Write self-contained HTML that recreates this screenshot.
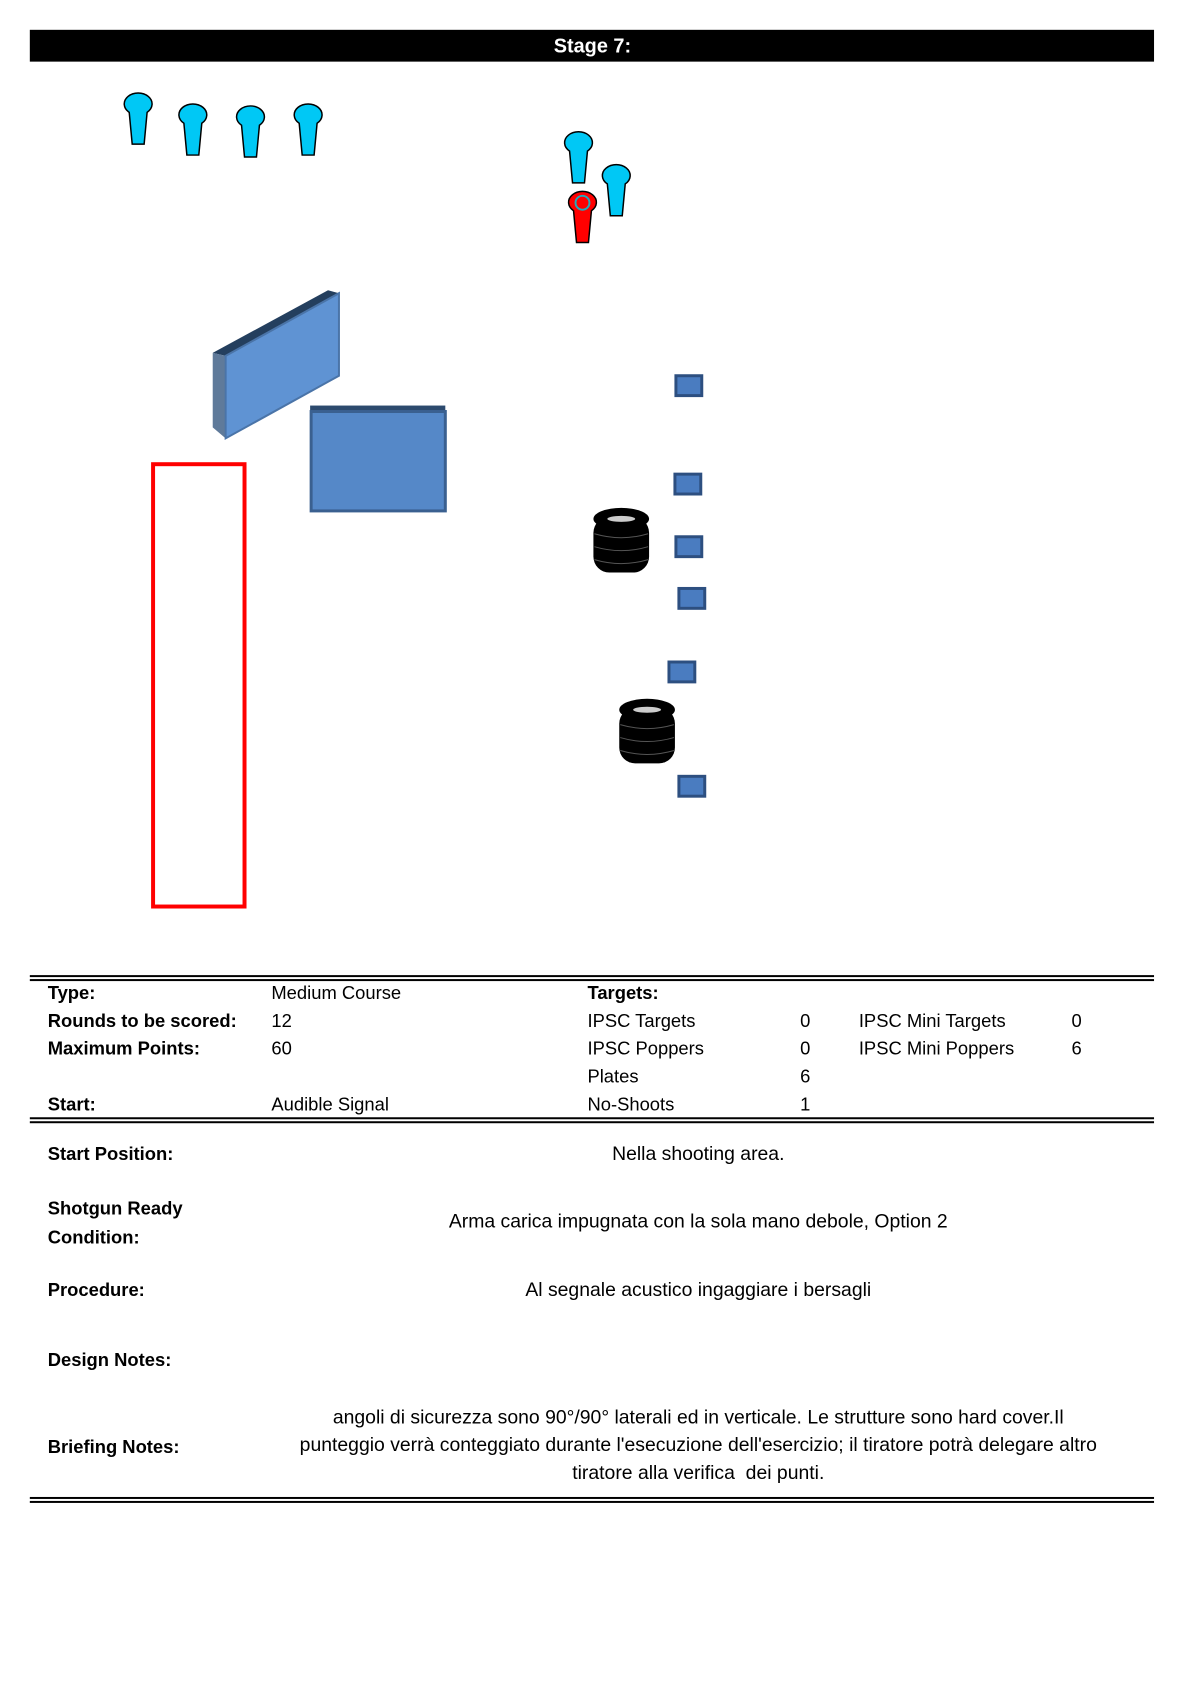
<!DOCTYPE html>
<html><head><meta charset="utf-8"><style>
body{margin:0;width:1191px;height:1684px;background:#fff;overflow:hidden;font-family:"Liberation Sans",sans-serif}
#w{position:absolute;left:0;top:0;width:1191px;height:1684px;transform:scale(0.994);transform-origin:0 0}
.t{position:absolute;font-size:18.5px;color:#000;white-space:nowrap;line-height:20px}
.b{font-weight:bold}
.c{position:absolute;left:250px;width:905px;text-align:center;font-size:19.5px;line-height:28px}
</style></head><body><div id="w">
<svg width="1191" height="1684" style="position:absolute;left:0;top:0">
<rect x="30" y="30" width="1131" height="32" fill="#000"/>
<text x="596" y="53" fill="#fff" font-size="20" font-weight="bold" text-anchor="middle" font-family="Liberation Sans">Stage 7:</text>
<defs>
<g id="pop"><path d="M-9,18 L-6,50 L6,50 L9,18 A14,11 0 1 0 -9,18 Z" stroke="#000" stroke-width="1.5"/></g>
</defs>
<g fill="#00c8f5">
<use href="#pop" x="139" y="95"/>
<use href="#pop" x="194" y="106"/>
<use href="#pop" x="252" y="108"/>
<use href="#pop" x="310" y="106"/>
<use href="#pop" x="582" y="134"/>
<use href="#pop" x="620" y="167"/>
</g>
<use href="#pop" x="586" y="194" fill="#f00"/>
<circle cx="586" cy="204" r="7" fill="none" stroke="#2ab" stroke-width="2"/>
<polygon points="214,355 330,292 341,295 227,358" fill="#243f5e"/>
<polygon points="214,355 227,358 227,441 214,430" fill="#5f7a9a"/>
<polygon points="227,358 341,295 341,378 227,441" fill="#5f93d3" stroke="#4a74a8" stroke-width="2"/>
<rect x="312" y="408" width="136" height="7" fill="#2c4a6e"/>
<rect x="313" y="414" width="135" height="100" fill="#5588c8" stroke="#3a6090" stroke-width="3"/>
<rect x="154" y="467" width="92" height="445" fill="none" stroke="#f00" stroke-width="4"/>
<g fill="#4a7cc0" stroke="#2d4f80" stroke-width="3">
<rect x="680" y="378" width="26" height="20"/>
<rect x="679" y="477" width="26" height="20"/>
<rect x="680" y="540" width="26" height="20"/>
<rect x="683" y="592" width="26" height="20"/>
<rect x="673" y="666" width="26" height="20"/>
<rect x="683" y="781" width="26" height="20"/>
</g>
<g id="bar1">
<rect x="597" y="520" width="56" height="56" rx="16" fill="#000"/>
<ellipse cx="625" cy="522" rx="28" ry="11" fill="#000"/>
<ellipse cx="625" cy="522" rx="14" ry="3" fill="#ccc"/>
<g stroke="#555" stroke-width="1" fill="none">
<path d="M598,537 Q625,545 652,537"/><path d="M598,550 Q625,558 652,550"/><path d="M598,563 Q625,571 652,563"/>
</g>
</g>
<g transform="translate(26,192)">
<rect x="597" y="520" width="56" height="56" rx="16" fill="#000"/>
<ellipse cx="625" cy="522" rx="28" ry="11" fill="#000"/>
<ellipse cx="625" cy="522" rx="14" ry="3" fill="#ccc"/>
<g stroke="#555" stroke-width="1" fill="none">
<path d="M598,537 Q625,545 652,537"/><path d="M598,550 Q625,558 652,550"/><path d="M598,563 Q625,571 652,563"/>
</g>
</g>
<g fill="#000">
<rect x="30" y="981" width="1131" height="2"/><rect x="30" y="985" width="1131" height="2"/>
<rect x="30" y="1124" width="1131" height="2"/><rect x="30" y="1128" width="1131" height="2"/>
<rect x="30" y="1506" width="1131" height="2"/><rect x="30" y="1510" width="1131" height="2"/>
</g>
</svg>
<div class="t b" style="left:48px;top:989px">Type:</div>
<div class="t" style="left:273px;top:989px">Medium Course</div>
<div class="t b" style="left:591px;top:989px">Targets:</div>
<div class="t b" style="left:48px;top:1017px">Rounds to be scored:</div>
<div class="t" style="left:273px;top:1017px">12</div>
<div class="t" style="left:591px;top:1017px">IPSC Targets</div>
<div class="t" style="left:805px;top:1017px">0</div>
<div class="t" style="left:864px;top:1017px">IPSC Mini Targets</div>
<div class="t" style="left:1078px;top:1017px">0</div>
<div class="t b" style="left:48px;top:1045px">Maximum Points:</div>
<div class="t" style="left:273px;top:1045px">60</div>
<div class="t" style="left:591px;top:1045px">IPSC Poppers</div>
<div class="t" style="left:805px;top:1045px">0</div>
<div class="t" style="left:864px;top:1045px">IPSC Mini Poppers</div>
<div class="t" style="left:1078px;top:1045px">6</div>
<div class="t" style="left:591px;top:1073px">Plates</div>
<div class="t" style="left:805px;top:1073px">6</div>
<div class="t b" style="left:48px;top:1101px">Start:</div>
<div class="t" style="left:273px;top:1101px">Audible Signal</div>
<div class="t" style="left:591px;top:1101px">No-Shoots</div>
<div class="t" style="left:805px;top:1101px">1</div>
<div class="t b" style="left:48px;top:1151px">Start Position:</div>
<div class="c" style="top:1147px">Nella shooting area.</div>
<div class="t b" style="left:48px;top:1206px">Shotgun Ready</div>
<div class="t b" style="left:48px;top:1235px">Condition:</div>
<div class="c" style="top:1215px">Arma carica impugnata con la sola mano debole, Option 2</div>
<div class="t b" style="left:48px;top:1288px">Procedure:</div>
<div class="c" style="top:1284px">Al segnale acustico ingaggiare i bersagli</div>
<div class="t b" style="left:48px;top:1358px">Design Notes:</div>
<div class="t b" style="left:48px;top:1446px">Briefing Notes:</div>
<div class="c" style="top:1412px">angoli di sicurezza sono 90°/90° laterali ed in verticale. Le strutture sono hard cover.Il<br>punteggio verrà conteggiato durante l'esecuzione dell'esercizio; il tiratore potrà delegare altro<br>tiratore alla verifica&nbsp; dei punti.</div>
</div></body></html>
